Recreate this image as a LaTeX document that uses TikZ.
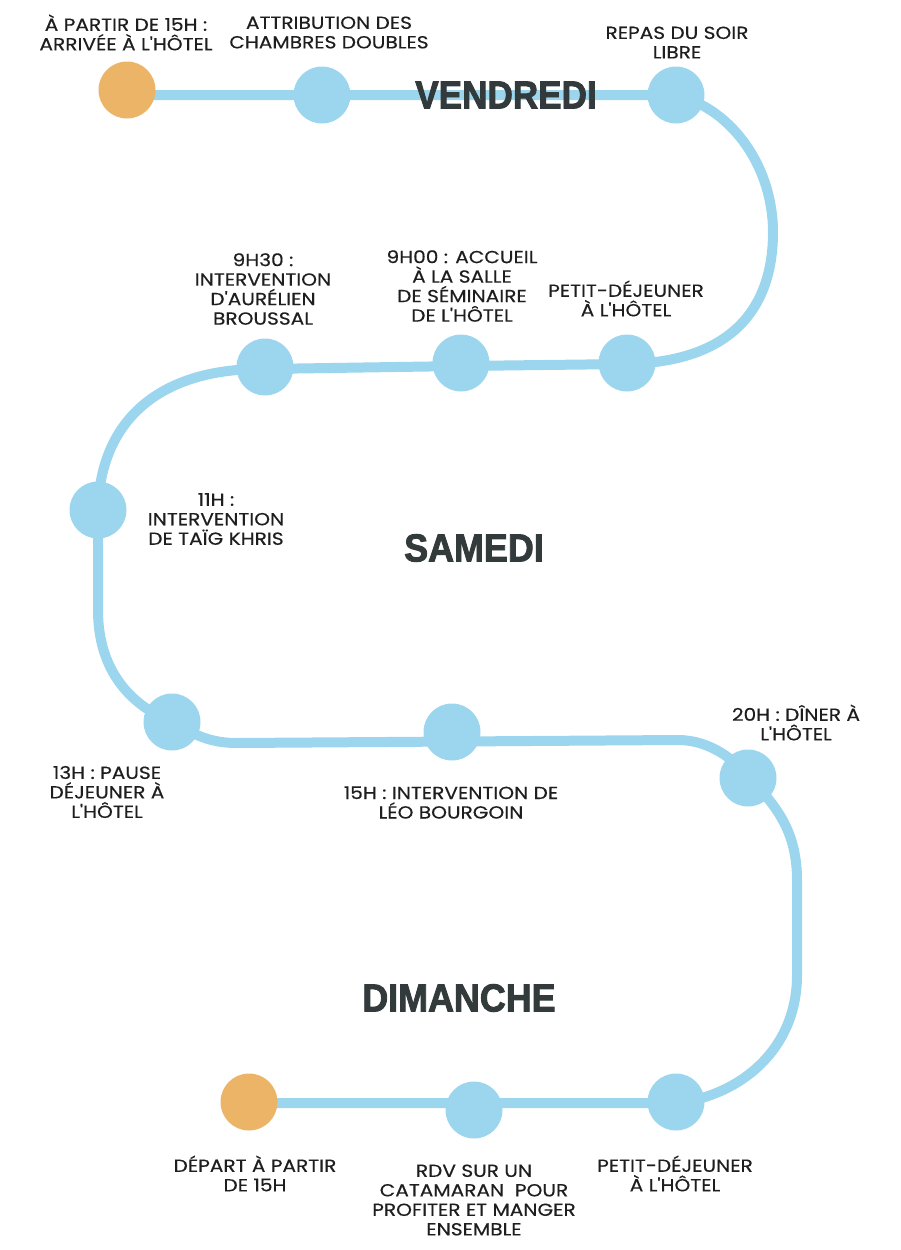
\documentclass[tikz,border=0pt]{standalone}
\usepackage{fontspec}
\setmainfont{Poppins}[Ligatures=TeXOff,FakeStretch=1.15,FakeBold=0.4]
\newfontfamily\headfont{Liberation Sans}[BoldFeatures={FakeBold=2.4}]
\definecolor{trackblue}{HTML}{9BD6EE}
\definecolor{dotorange}{HTML}{EBB466}
\definecolor{headgray}{HTML}{333A3C}
\definecolor{labelink}{HTML}{1E1E1E}
\begin{document}
\begin{tikzpicture}[x=1pt,y=-1pt,
  track/.style={draw=trackblue,line width=10pt},
  dotblue/.style={circle,fill=trackblue,minimum size=57pt,inner sep=0pt},
  dotorg/.style={circle,fill=dotorange,minimum size=57pt,inner sep=0pt},
  lbl/.style={align=center,text=labelink,font=\fontsize{17.5}{19.5}\selectfont,inner sep=0pt},
  day/.style={text=headgray,inner sep=0pt,font=\headfont\bfseries\fontsize{39}{40}\selectfont}]
\useasboundingbox (0,0) rectangle (900,1250);
% path coordinates
\coordinate (p1) at (127,95);
\coordinate (p2) at (322,95);
\coordinate (p3) at (676,95);
\coordinate (pr1) at (773,232);
\coordinate (p4) at (627,364);
\coordinate (p5) at (462,366);
\coordinate (p6) at (264,369);
\coordinate (p7) at (98,510);
\coordinate (pv1) at (98,610);
\coordinate (p8) at (172,722);
\coordinate (ph1) at (237,743);
\coordinate (ph2) at (678,740);
\coordinate (p10) at (750,778);
\coordinate (pv2) at (797,880);
\coordinate (pv3) at (797,975);
\coordinate (p11) at (678,1103);
\coordinate (p12) at (475,1103);
\coordinate (p13) at (250,1103);
% track
\draw[track] (p1) -- (p2) -- (p3)
  .. controls (735,110) and (773,170) .. (pr1)
  .. controls (773,310) and (730,362) .. (p4)
  -- (p5) -- (p6)
  .. controls (160,368) and (100,420) .. (p7)
  -- (pv1)
  .. controls (98,670) and (130,705) .. (p8)
  .. controls (195,735) and (210,743) .. (ph1)
  -- (ph2)
  .. controls (710,740) and (735,760) .. (p10)
  .. controls (775,805) and (797,830) .. (pv2)
  -- (pv3)
  .. controls (797,1050) and (740,1095) .. (p11)
  -- (p12) -- (p13);
% dots
\node[dotorg]  (n1) at (127,90) {};
\node[dotblue] (n2) at (322,95) {};
\node[dotblue] (n3) at (676,95) {};
\node[dotblue] (n4) at (627,363) {};
\node[dotblue] (n5) at (461,363) {};
\node[dotblue] (n6) at (265,367) {};
\node[dotblue] (n7) at (98,510) {};
\node[dotblue] (n8) at (172,722) {};
\node[dotblue] (n9) at (452,732) {};
\node[dotblue] (n10) at (748,778) {};
\node[dotblue] (n11) at (676,1102) {};
\node[dotblue] (n12) at (474,1110) {};
\node[dotorg]  (n13) at (249,1102) {};
% day titles
\node[day] (d1) at (506,95) {\scalebox{0.9}[1]{VENDREDI}};
\node[day] (d2) at (474,548) {\scalebox{0.92}[1]{SAMEDI}};
\node[day] (d3) at (459,998) {\scalebox{0.92}[1]{DIMANCHE}};
% labels
\node[lbl] (l1) at (126,32.5) {À PARTIR DE 15H :\\ARRIVÉE À L'HÔTEL};
\node[lbl] (l2) at (329,32.5) {ATTRIBUTION DES\\CHAMBRES DOUBLES};
\node[lbl] (l3) at (677,42.5) {REPAS DU SOIR\\LIBRE};
\node[lbl] (l4) at (626,298.5) {PETIT-DÉJEUNER\\À L'HÔTEL};
\node[lbl] (l5) at (462,286) {9H00 : ACCUEIL\\À LA SALLE\\DE SÉMINAIRE\\DE L'HÔTEL};
\node[lbl] (l6) at (263,289) {9H30 :\\INTERVENTION\\D'AURÉLIEN\\BROUSSAL};
\node[lbl] (l7) at (216,519) {11H :\\INTERVENTION\\DE TAÏG KHRIS};
\node[lbl] (l8) at (107,792) {13H : PAUSE\\DÉJEUNER À\\L'HÔTEL};
\node[lbl] (l9) at (451,802.5) {15H : INTERVENTION DE\\LÉO BOURGOIN};
\node[lbl] (l10) at (796,722.5) {20H : DÎNER À\\L'HÔTEL};
\node[lbl] (l11) at (255,1173.5) {DÉPART À PARTIR\\DE 15H};
\node[lbl] (l12) at (474,1200) {RDV SUR UN\\CATAMARAN~ POUR\\PROFITER ET MANGER\\ENSEMBLE};
\node[lbl] (l13) at (675,1173.5) {PETIT-DÉJEUNER\\À L'HÔTEL};
\end{tikzpicture}
\end{document}
